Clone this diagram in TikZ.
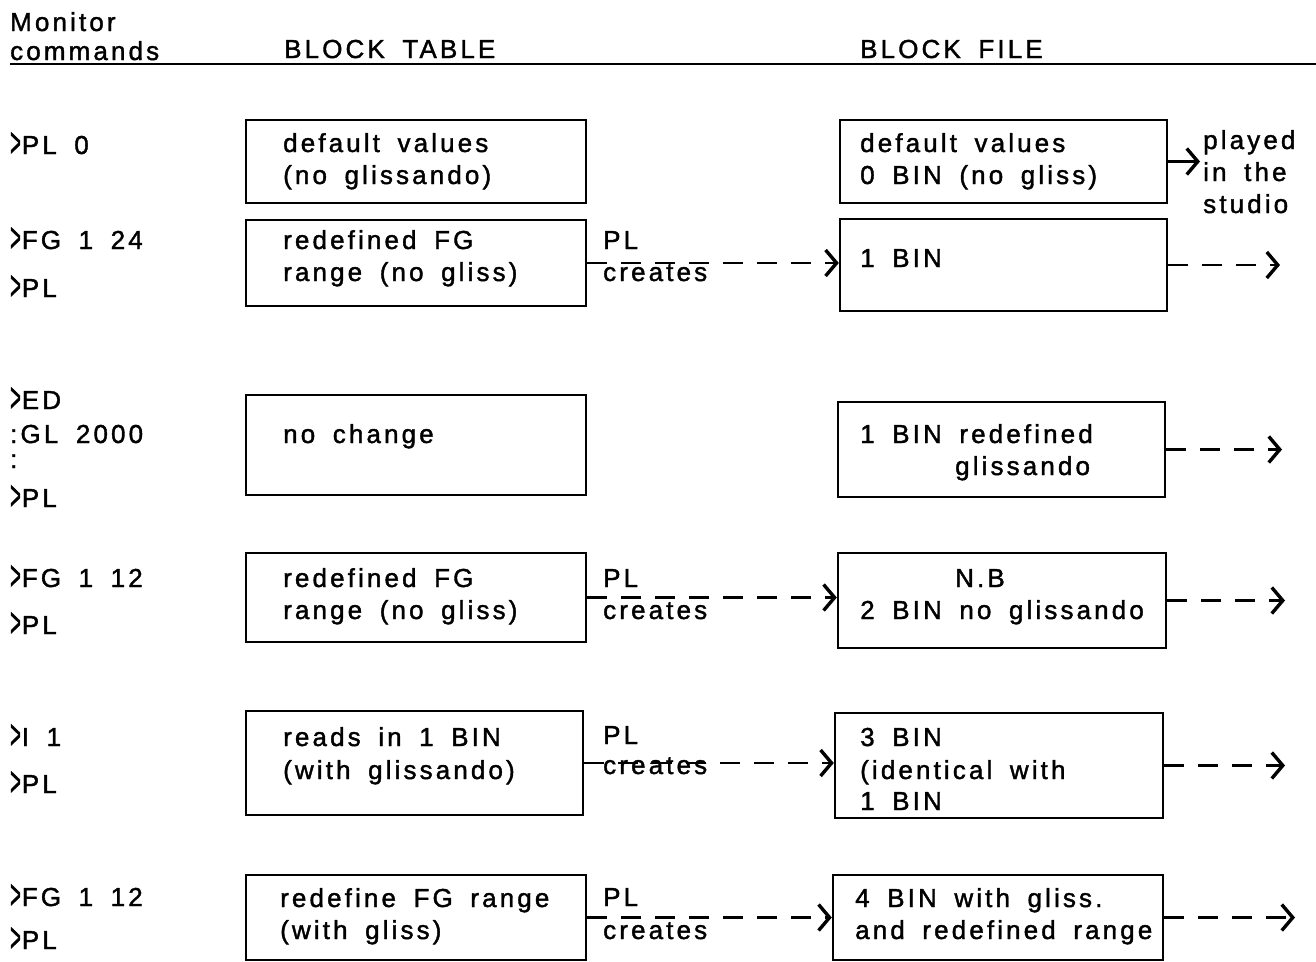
\documentclass[tikz,border=0pt]{standalone}
\usepackage{fontspec}
\setmainfont[LetterSpace=12, WordSpace=1.7, FakeBold=1.5]{Liberation Sans}
\usetikzlibrary{arrows.meta}
\tikzset{
  box/.style={draw, line width=2.4pt, rectangle, inner sep=0pt},
  txt/.style={anchor=base west, inner sep=0pt, font=\fontsize{26}{32}\selectfont},
  conn/.style={line width=2.4pt, -{Straight Barb[length=11pt,width=26pt,line width=3.4pt]}},
  dconn/.style={conn, dash pattern=on 20pt off 14pt},
  hline/.style={line width=2.4pt}
}
\newcommand\tx[4]{\node[txt] (#1) at (#2,#3) {#4};}
\newcommand\pr{\raisebox{-2.5pt}{\scalebox{0.7}[1.6]{>}}\hspace{1pt}}
\begin{document}
\begin{tikzpicture}[x=1pt,y=-1pt]
\useasboundingbox (0,0) rectangle (1316,961);
% header
\tx{hmon}{10}{31}{Monitor}
\tx{hcom}{10}{60}{commands}
\tx{hbt}{284}{58}{BLOCK TABLE}
\tx{hbf}{860}{58}{BLOCK FILE}
\coordinate (hl) at (10,64);
\coordinate (hr) at (1316,64);
\draw[hline] (hl) -- (hr);
% monitor commands
\tx{c1}{10}{154}{\pr PL 0}
\tx{c2a}{10}{249}{\pr FG 1 24}
\tx{c2b}{10}{297}{\pr PL}
\tx{c3a}{10}{409}{\pr ED}
\tx{c3b}{10}{443}{:GL 2000}
\tx{c3c}{10}{468}{:}
\tx{c3d}{10}{507}{\pr PL}
\tx{c4a}{10}{587}{\pr FG 1 12}
\tx{c4b}{10}{634}{\pr PL}
\tx{c5a}{10}{746}{\pr I 1}
\tx{c5b}{10}{793}{\pr PL}
\tx{c6a}{10}{906}{\pr FG 1 12}
\tx{c6b}{10}{949}{\pr PL}
% block table boxes
\node[box, minimum width=340pt, minimum height=83pt]  (L1) at (416,161.5) {};
\node[box, minimum width=340pt, minimum height=86pt]  (L2) at (416,263) {};
\node[box, minimum width=340pt, minimum height=100pt] (L3) at (416,445) {};
\node[box, minimum width=340pt, minimum height=89pt]  (L4) at (416,597.5) {};
\node[box, minimum width=337pt, minimum height=104pt] (L5) at (414.5,763) {};
\node[box, minimum width=340pt, minimum height=85pt]  (L6) at (416,917.5) {};
% block file boxes
\node[box, minimum width=327pt, minimum height=83pt]  (R1) at (1003.5,161.5) {};
\node[box, minimum width=327pt, minimum height=92pt]  (R2) at (1003.5,265) {};
\node[box, minimum width=327pt, minimum height=95pt]  (R3) at (1001.5,449.5) {};
\node[box, minimum width=328pt, minimum height=95pt]  (R4) at (1002,600.5) {};
\node[box, minimum width=328pt, minimum height=105pt] (R5) at (999,765.5) {};
\node[box, minimum width=330pt, minimum height=85pt]  (R6) at (998,917.5) {};
% block table texts
\tx{l1a}{283}{152}{default values}
\tx{l1b}{283}{184}{(no glissando)}
\tx{l2a}{283}{249}{redefined FG}
\tx{l2b}{283}{281}{range (no gliss)}
\tx{l3a}{283}{443}{no change}
\tx{l4a}{283}{587}{redefined FG}
\tx{l4b}{283}{619}{range (no gliss)}
\tx{l5a}{283}{746}{reads in 1 BIN}
\tx{l5b}{283}{779}{(with glissando)}
\tx{l6a}{280}{907}{redefine FG range}
\tx{l6b}{280}{939}{(with gliss)}
% block file texts
\tx{r1a}{860}{152}{default values}
\tx{r1b}{860}{184}{0 BIN (no gliss)}
\tx{r2a}{860}{267}{1 BIN}
\tx{r3a}{860}{443}{1 BIN redefined}
\tx{r3b}{955}{475}{glissando}
\tx{r4a}{955}{587}{N.B}
\tx{r4b}{860}{619}{2 BIN no glissando}
\tx{r5a}{860}{746}{3 BIN}
\tx{r5b}{860}{779}{(identical with}
\tx{r5c}{860}{810}{1 BIN}
\tx{r6a}{855}{907}{4 BIN with gliss.}
\tx{r6b}{855}{939}{and redefined range}
% played in the studio
\tx{p1}{1203}{149}{played}
\tx{p2}{1203}{181}{in the}
\tx{p3}{1203}{213}{studio}
% PL creates labels
\tx{pl2}{603}{249}{PL}
\tx{cr2}{603}{281}{creates}
\tx{pl4}{603}{587}{PL}
\tx{cr4}{603}{619}{creates}
\tx{pl5}{603}{744}{PL}
\tx{cr5}{603}{774}{creates}
\tx{pl6}{603}{906}{PL}
\tx{cr6}{603}{939}{creates}
% connectors
\coordinate (o1) at (1200,161.5);
\draw[conn] (R1.east) -- (o1);
\draw[dconn] (L2.east) -- (L2.east -| R2.west);
\draw[dconn] (L4.east) -- (L4.east -| R4.west);
\draw[dconn] (L5.east) -- (L5.east -| R5.west);
\draw[dconn] (L6.east) -- (L6.east -| R6.west);
\coordinate (o2) at (1280,265);
\coordinate (o3) at (1282,449.5);
\coordinate (o4) at (1285,600.5);
\coordinate (o5) at (1285,765.5);
\coordinate (o6) at (1295,917.5);
\draw[dconn] (R2.east) -- (o2);
\draw[dconn] (R3.east) -- (o3);
\draw[dconn] (R4.east) -- (o4);
\draw[dconn] (R5.east) -- (o5);
\draw[dconn] (R6.east) -- (o6);
\end{tikzpicture}
\end{document}
